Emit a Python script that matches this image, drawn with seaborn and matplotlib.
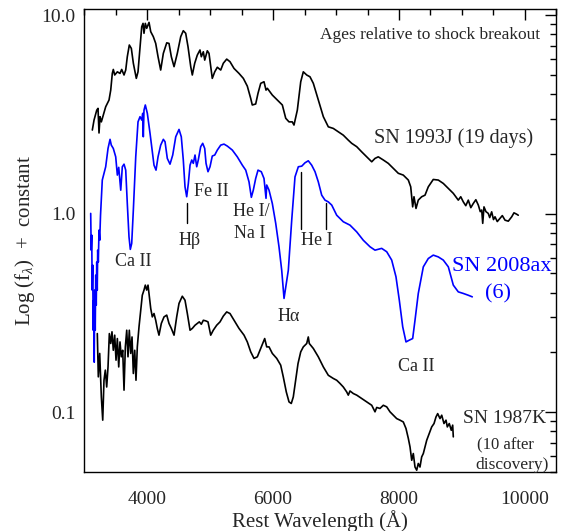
import numpy as np
import pandas as pd
import matplotlib
matplotlib.use("Agg")
import matplotlib.pyplot as plt
import seaborn as sns
from matplotlib.ticker import FixedLocator, FuncFormatter, NullFormatter

# ---- data (wavelength in Angstrom, log10 flux + constant) ----
wl_1993j = [3132, 3159, 3202, 3222, 3238, 3254, 3275, 3306, 3344, 3397, 3424, 3449, 3465, 3487,
            3529, 3571, 3598, 3635, 3662, 3687, 3719, 3751, 3783, 3830, 3857, 3889, 3916, 3937,
            3952, 3973, 3995, 4032, 4059, 4100, 4138, 4175, 4217, 4259, 4313, 4349, 4386, 4429,
            4481, 4535, 4576, 4614, 4651, 4694, 4719, 4757, 4798, 4841, 4862, 4894, 4916, 4957,
            4984, 5011, 5036, 5075, 5116, 5170, 5211, 5265, 5317, 5381, 5460, 5529, 5592, 5646,
            5671, 5725, 5762, 5805, 5857, 5889, 5910, 5989, 6068, 6148, 6202, 6254, 6306, 6333,
            6386, 6440, 6481, 6535, 6587, 6640, 6719, 6799, 6878, 6957, 7037, 7116, 7195, 7249,
            7329, 7408, 7487, 7567, 7619, 7671, 7751, 7830, 7910, 7989, 8068, 8148, 8186, 8217,
            8238, 8270, 8306, 8360, 8413, 8465, 8544, 8624, 8703, 8783, 8862, 8941, 8980, 9021,
            9060, 9100, 9140, 9179, 9220, 9259, 9290, 9313, 9329, 9349, 9380, 9417, 9440, 9471,
            9500, 9524, 9560, 9603, 9640, 9683, 9735, 9789, 9825, 9868, 9893]
lf_1993j = [0.421, 0.471, 0.521, 0.530, 0.406, 0.488, 0.462, 0.496, 0.538, 0.572, 0.622, 0.706,
            0.726, 0.698, 0.714, 0.706, 0.726, 0.698, 0.723, 0.790, 0.849, 0.832, 0.757, 0.681,
            0.714, 0.840, 0.941, 0.958, 0.908, 0.958, 0.933, 0.963, 0.916, 0.891, 0.857, 0.790,
            0.723, 0.807, 0.860, 0.857, 0.790, 0.740, 0.807, 0.891, 0.921, 0.908, 0.840, 0.740,
            0.698, 0.757, 0.798, 0.824, 0.790, 0.815, 0.773, 0.820, 0.807, 0.740, 0.681, 0.714,
            0.737, 0.723, 0.757, 0.778, 0.765, 0.731, 0.706, 0.681, 0.642, 0.580, 0.547, 0.552,
            0.606, 0.656, 0.664, 0.622, 0.631, 0.597, 0.572, 0.547, 0.480, 0.462, 0.462, 0.446,
            0.521, 0.664, 0.714, 0.698, 0.689, 0.656, 0.572, 0.488, 0.437, 0.429, 0.412, 0.395,
            0.370, 0.354, 0.337, 0.311, 0.286, 0.261, 0.278, 0.286, 0.270, 0.253, 0.228, 0.203,
            0.194, 0.169, 0.135, 0.034, 0.085, 0.026, 0.068, 0.085, 0.093, 0.135, 0.172, 0.169,
            0.152, 0.127, 0.102, 0.068, 0.085, 0.059, 0.040, 0.068, 0.030, 0.051, 0.070, 0.043,
            0.010, 0.018, -0.049, 0.034, 0.010, 0.001, -0.020, 0.009, -0.030, -0.016, -0.040,
            -0.024, -0.010, -0.033, -0.038, -0.016, 0.004, -0.003, -0.008]

wl_2008ax = [3106, 3114, 3122, 3130, 3138, 3146, 3154, 3162, 3170, 3178, 3186, 3194, 3202, 3210,
             3217, 3227, 3238, 3249, 3262, 3290, 3344, 3381, 3413, 3433, 3465, 3503, 3529, 3551,
             3583, 3608, 3635, 3662, 3687, 3714, 3735, 3757, 3783, 3821, 3857, 3889, 3916, 3932,
             3941, 3952, 3973, 4005, 4048, 4084, 4111, 4143, 4175, 4217, 4259, 4286, 4322, 4365,
             4408, 4456, 4508, 4544, 4576, 4603, 4630, 4656, 4683, 4710, 4735, 4762, 4789, 4814,
             4852, 4884, 4916, 4937, 4968, 5000, 5036, 5075, 5116, 5170, 5222, 5275, 5354, 5433,
             5513, 5567, 5619, 5656, 5687, 5725, 5762, 5814, 5857, 5889, 5900, 5937, 5989, 6043,
             6095, 6138, 6175, 6243, 6297, 6349, 6402, 6456, 6508, 6560, 6614, 6667, 6719, 6773,
             6825, 6878, 6932, 7011, 7116, 7222, 7329, 7433, 7540, 7619, 7725, 7805, 7884, 7952,
             8005, 8059, 8111, 8164, 8217, 8254, 8306, 8386, 8465, 8544, 8624, 8703, 8783, 8862,
             8941, 9021, 9100, 9163]
lf_2008ax = [0.001, -0.184, -0.108, -0.385, -0.259, -0.587, -0.436, -0.748, -0.385, -0.587,
             -0.310, -0.461, -0.244, -0.385, -0.184, -0.244, -0.083, -0.134, -0.008, 0.169,
             0.236, 0.328, 0.374, 0.345, 0.328, 0.286, 0.194, 0.233, 0.118, 0.236, 0.249, 0.219,
             0.051, -0.117, -0.180, -0.150, 0.018, 0.286, 0.462, 0.488, 0.471, 0.505, 0.387,
             0.521, 0.547, 0.505, 0.404, 0.311, 0.244, 0.219, 0.286, 0.345, 0.374, 0.362, 0.278,
             0.249, 0.295, 0.387, 0.424, 0.387, 0.270, 0.135, 0.085, 0.152, 0.244, 0.270, 0.253,
             0.295, 0.236, 0.270, 0.337, 0.354, 0.328, 0.253, 0.211, 0.236, 0.290, 0.295, 0.320,
             0.345, 0.350, 0.340, 0.320, 0.286, 0.244, 0.219, 0.160, 0.082, 0.118, 0.177, 0.219,
             0.211, 0.177, 0.077, 0.144, 0.118, 0.051, -0.049, -0.167, -0.285, -0.427, -0.285,
             -0.033, 0.185, 0.236, 0.239, 0.256, 0.266, 0.244, 0.211, 0.160, 0.093, 0.068, 0.059,
             0.043, -0.008, -0.041, -0.058, -0.092, -0.134, -0.167, -0.184, -0.175, -0.192,
             -0.234, -0.318, -0.436, -0.570, -0.646, -0.637, -0.629, -0.537, -0.402, -0.268,
             -0.226, -0.209, -0.218, -0.234, -0.268, -0.360, -0.394, -0.402, -0.411, -0.419]

wl_1987k = [3211, 3227, 3249, 3275, 3297, 3317, 3338, 3360, 3381, 3402, 3424, 3444, 3465, 3487,
            3508, 3529, 3551, 3571, 3592, 3614, 3635, 3656, 3678, 3698, 3719, 3741, 3762, 3783,
            3805, 3825, 3846, 3873, 3900, 3925, 3952, 3973, 3995, 4016, 4037, 4059, 4084, 4111,
            4138, 4163, 4190, 4227, 4270, 4313, 4349, 4386, 4429, 4471, 4508, 4560, 4603, 4640,
            4683, 4719, 4762, 4798, 4830, 4862, 4894, 4932, 4968, 5011, 5052, 5106, 5159, 5211,
            5265, 5317, 5381, 5460, 5540, 5592, 5646, 5698, 5751, 5805, 5846, 5868, 5900, 5937,
            5989, 6059, 6122, 6163, 6211, 6254, 6290, 6322, 6360, 6397, 6440, 6481, 6535, 6560,
            6576, 6640, 6719, 6799, 6878, 6957, 7011, 7063, 7116, 7170, 7195, 7222, 7275, 7329,
            7408, 7487, 7567, 7619, 7646, 7698, 7751, 7805, 7857, 7910, 7963, 8016, 8068, 8111,
            8148, 8175, 8202, 8227, 8254, 8281, 8306, 8333, 8360, 8386, 8413, 8440, 8481, 8519,
            8556, 8587, 8614, 8651, 8678, 8714, 8746, 8767, 8798, 8830, 8852, 8862]
lf_1987k = [-0.604, -0.822, -0.704, -0.923, -1.040, -0.839, -0.788, -0.873, -0.772, -0.604,
            -0.654, -0.595, -0.688, -0.612, -0.738, -0.629, -0.772, -0.646, -0.721, -0.688,
            -0.889, -0.671, -0.587, -0.721, -0.587, -0.704, -0.621, -0.805, -0.688, -0.839,
            -0.671, -0.570, -0.486, -0.411, -0.385, -0.360, -0.385, -0.360, -0.419, -0.478,
            -0.520, -0.503, -0.537, -0.578, -0.612, -0.553, -0.520, -0.511, -0.553, -0.578,
            -0.612, -0.520, -0.452, -0.416, -0.436, -0.503, -0.587, -0.578, -0.562, -0.553,
            -0.545, -0.557, -0.537, -0.540, -0.545, -0.612, -0.587, -0.562, -0.545, -0.516,
            -0.495, -0.503, -0.537, -0.578, -0.612, -0.646, -0.696, -0.729, -0.721, -0.679,
            -0.646, -0.629, -0.671, -0.671, -0.704, -0.729, -0.763, -0.822, -0.898, -0.948,
            -0.956, -0.923, -0.839, -0.755, -0.696, -0.671, -0.654, -0.621, -0.654, -0.679,
            -0.721, -0.772, -0.814, -0.830, -0.839, -0.855, -0.873, -0.898, -0.914, -0.893,
            -0.906, -0.914, -0.931, -0.948, -0.965, -0.998, -0.976, -0.981, -0.965, -0.973,
            -0.998, -1.015, -1.032, -1.040, -1.049, -1.082, -1.132, -1.175, -1.242, -1.208,
            -1.276, -1.292, -1.258, -1.276, -1.225, -1.208, -1.175, -1.141, -1.107, -1.074,
            -1.057, -1.024, -1.007, -1.032, -1.015, -1.057, -1.040, -1.074, -1.057, -1.091,
            -1.065, -1.124]

x_ticks = [4000, 6000, 8000, 10000]
y_ticks = [0.1, 1.0, 10.0]

# line identification markers: (wavelength, log-flux bottom, log-flux top)
markers_wl = [4630, 6444, 6841]
markers_lo = [-0.046, -0.077, -0.077]
markers_hi = [0.053, 0.208, 0.052]

sns.set_theme(style="white")
plt.rcParams['font.family'] = ['Liberation Serif', 'DejaVu Serif']
plt.rcParams['mathtext.fontset'] = 'custom'
plt.rcParams['mathtext.rm'] = 'Liberation Serif'
plt.rcParams['mathtext.it'] = 'Liberation Serif:italic'

fig = plt.figure(figsize=(5.62, 5.31), dpi=100)
ax = fig.add_axes([0.1495, 0.1111, 0.8407, 0.8719])

frames = []
for name, wl, lf in [("1993J", wl_1993j, lf_1993j), ("2008ax", wl_2008ax, lf_2008ax),
                     ("1987K", wl_1987k, lf_1987k)]:
    frames.append(pd.DataFrame({"wl": wl, "flux": 10 ** np.array(lf), "sn": name}))
df = pd.concat(frames, ignore_index=True)

sns.lineplot(data=df, x="wl", y="flux", hue="sn", units="sn", estimator=None, sort=False,
             palette={"1993J": "black", "2008ax": "#0000ff", "1987K": "black"},
             linewidth=1.2, legend=False, ax=ax)

for w, lo, hi in zip(markers_wl, markers_lo, markers_hi):
    ax.plot([w, w], [10 ** lo, 10 ** hi], color="black", lw=1.0)

ax.set_yscale("log")
ax.set_xlim(3000, 10500)
ax.set_ylim(0.05, 10.72)

ax.xaxis.set_major_locator(FixedLocator(x_ticks))
ax.xaxis.set_minor_locator(FixedLocator(np.arange(3000, 10501, 500)))
ax.yaxis.set_major_locator(FixedLocator(y_ticks))
ax.yaxis.set_major_formatter(FuncFormatter(lambda v, p: f"{v:.1f}"))
minors = [m * d for d in (0.01, 0.1, 1.0) for m in range(2, 10)]
ax.yaxis.set_minor_locator(FixedLocator(minors))
ax.yaxis.set_minor_formatter(NullFormatter())
ax.tick_params(which="both", direction="in", top=True, right=True, color="black")
ax.tick_params(which="major", length=8, width=1, labelsize=14)
ax.tick_params(axis="x", which="major", pad=14)
ax.tick_params(axis="y", which="major", pad=6)
ax.tick_params(which="minor", length=4, width=1)
for s in ax.spines.values():
    s.set_color("black")
    s.set_linewidth(1.0)

ax.set_xlabel("Rest Wavelength (Å)", fontsize=15, labelpad=1)
ax.set_ylabel(r"Log (f$_\lambda$)  +  constant", fontsize=15, labelpad=3)

def T(w, lf, s, **kw):
    ax.text(w, 10 ** lf, s, ha="center", va="center", **kw)

T(8492, 0.899, "Ages relative to shock breakout", fontsize=12.5)
T(8862, 0.379, "SN 1993J (19 days)", fontsize=14.5)
T(9630, -0.268, "SN 2008ax", fontsize=16, color="#0000ff")
T(9576, -0.402, "(6)", fontsize=16, color="#0000ff")
T(9683, -1.032, "SN 1987K", fontsize=14)
T(9683, -1.166, "(10 after", fontsize=12)
T(9790, -1.267, "discovery)", fontsize=12.5)
T(3783, -0.243, "Ca II", fontsize=13)
T(4683, -0.134, "Hβ", fontsize=13)
T(5027, 0.110, "Fe II", fontsize=13)
T(5662, 0.009, "He I/", fontsize=13)
T(5635, -0.100, "Na I", fontsize=13)
T(6693, -0.134, "He I", fontsize=13)
T(6243, -0.520, "Hα", fontsize=13)
T(8281, -0.772, "Ca II", fontsize=13)

fig.savefig("out.png", dpi=100)
